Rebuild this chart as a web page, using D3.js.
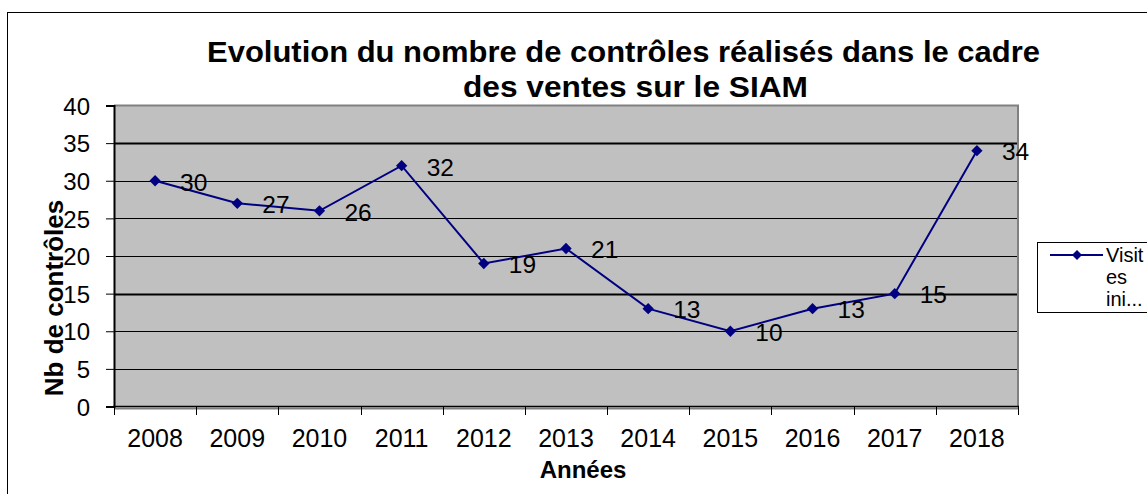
<!DOCTYPE html>
<html><head><meta charset="utf-8">
<script src="https://cdn.jsdelivr.net/npm/d3@7"></script>
<style>
html,body{margin:0;padding:0;background:#fff;}
svg{display:block;font-family:"Liberation Sans",Arial,sans-serif;}
</style></head>
<body>
<svg id="chart" width="1147" height="494"></svg>
<script>
const years = ["2008","2009","2010","2011","2012","2013","2014","2015","2016","2017","2018"];
const values = [30,27,26,32,19,21,13,10,13,15,34];
const yTicks = [0,5,10,15,20,25,30,35,40];
const titleLines = ["Evolution du nombre de contrôles réalisés dans le cadre","des ventes sur le SIAM"];
const xTitle = "Années";
const yTitle = "Nb de contrôles";
const legendLines = ["Visit","es","ini..."];

const svg = d3.select("#chart");
const L = 114, R = 1018, T = 105.5, B = 406.5;
const navy = "#000080";

// outer frame
svg.append("rect").attr("x",7.5).attr("y",12.5).attr("width",1200).attr("height",600)
  .attr("fill","#fff").attr("stroke","#000").attr("stroke-width",1);

// title
const tW = [833, 345];
const tY = [62, 97];
titleLines.forEach((t,i)=>{
  svg.append("text").attr("x", i===0 ? 623.5 : 635.5).attr("y",tY[i])
    .attr("text-anchor","middle").attr("font-size",30).attr("font-weight","bold")
    .attr("textLength",tW[i]).attr("lengthAdjust","spacingAndGlyphs")
    .text(t);
});

const x = d3.scaleBand().domain(years).range([L,R]);
const y = d3.scaleLinear().domain([0,40]).range([B,T]);

// plot area
svg.append("rect").attr("x",L).attr("y",T).attr("width",R-L).attr("height",B-T).attr("fill","#C0C0C0");

// gridlines
svg.append("g").selectAll("line").data(yTicks.filter(d=>d>0 && d<40)).join("line")
  .attr("x1",L).attr("x2",R).attr("y1",d=>Math.round(y(d))+0.5).attr("y2",d=>Math.round(y(d))+0.5)
  .attr("stroke","#000").attr("stroke-width",d=>(d===15||d===35)?2:1);

// plot border top/right (gray)
svg.append("path").attr("d",`M${L},${T} H${R} V${B}`).attr("fill","none").attr("stroke","#808080").attr("stroke-width",2);
svg.append("line").attr("x1",L).attr("x2",R).attr("y1",B+2).attr("y2",B+2).attr("stroke","#808080").attr("stroke-width",2);

// y axis
const yAxis = d3.axisLeft(y).tickValues(yTicks).tickSize(8).tickPadding(16);
const gy = svg.append("g").attr("transform",`translate(${L},0)`).call(yAxis);
gy.select(".domain").attr("stroke","#000").attr("stroke-width",2);
gy.selectAll(".tick line").attr("stroke","#000");
gy.selectAll(".tick text").attr("font-size",24).attr("fill","#000").attr("font-family","Liberation Sans, Arial, sans-serif").attr("dy","0.36em");

// x axis: ticks at band boundaries
svg.append("line").attr("x1",L-1).attr("x2",R+1).attr("y1",B).attr("y2",B).attr("stroke","#000").attr("stroke-width",1.5);
const bounds = years.map(d=>x(d)).concat([R]);
svg.append("g").selectAll("line").data(bounds).join("line")
  .attr("x1",d=>Math.round(d)+0.5).attr("x2",d=>Math.round(d)+0.5).attr("y1",B).attr("y2",B+8.5)
  .attr("stroke","#000").attr("stroke-width",1);
svg.append("g").selectAll("text").data(years).join("text")
  .attr("x",d=>x(d)+x.bandwidth()/2).attr("y",447)
  .attr("text-anchor","middle").attr("font-size",25).attr("fill","#000").text(d=>d);

// axis titles
svg.append("text").attr("x",583).attr("y",478).attr("text-anchor","middle")
  .attr("font-size",24).attr("font-weight","bold").text(xTitle);
svg.append("text").attr("transform","translate(63,298) rotate(-90)").attr("text-anchor","middle")
  .attr("font-size",26).attr("font-weight","bold").text(yTitle);

// line
const cx = d=>x(d)+x.bandwidth()/2;
const line = d3.line().x((d,i)=>cx(years[i])).y(d=>y(d));
svg.append("path").datum(values).attr("d",line).attr("fill","none").attr("stroke",navy).attr("stroke-width",2);
const diamond = d3.symbol().type(d3.symbolSquare).size(64);
svg.append("g").selectAll("path").data(values).join("path")
  .attr("transform",(d,i)=>`translate(${cx(years[i])},${y(d)}) rotate(45)`).attr("d",diamond).attr("fill",navy);

// labels
svg.append("g").selectAll("text").data(values).join("text")
  .attr("x",(d,i)=>cx(years[i])+25).attr("y",d=>y(d)+1).attr("dy","0.36em")
  .attr("font-size",24.5).attr("fill","#000").text(d=>d);

// legend
svg.append("rect").attr("x",1037.5).attr("y",242.5).attr("width",200).attr("height",70)
  .attr("fill","#fff").attr("stroke","#000").attr("stroke-width",1);
svg.append("line").attr("x1",1050).attr("x2",1103).attr("y1",255).attr("y2",255).attr("stroke",navy).attr("stroke-width",2);
svg.append("path").attr("transform","translate(1077,255) rotate(45)").attr("d",d3.symbol().type(d3.symbolSquare).size(50)).attr("fill",navy);
legendLines.forEach((t,i)=>{
  svg.append("text").attr("x",1106).attr("y",262+i*22).attr("font-size",20).attr("fill","#000").text(t);
});
</script>
</body></html>
